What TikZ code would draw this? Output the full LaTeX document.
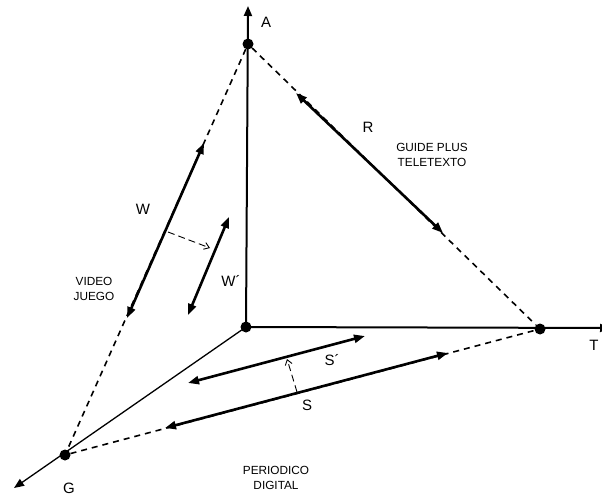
\documentclass[tikz,border=0pt]{standalone}
\usepackage{fontspec}
\setmainfont{Liberation Sans}
\usetikzlibrary{arrows.meta}
\begin{document}
\begin{tikzpicture}[x=1pt,y=-1pt,
  axisline/.style={line width=2pt,-{Triangle[length=10pt,width=8pt]}},
  gaxisline/.style={line width=1.3pt,-{Triangle[length=10pt,width=8pt]}},
  dashline/.style={line width=1.6pt,dash pattern=on 6pt off 5pt},
  seg/.style={line width=2.6pt,{Triangle[length=11pt,width=8pt]}-{Triangle[length=11pt,width=8pt]}},
  move/.style={line width=0.9pt,dash pattern=on 7pt off 4pt,-{Straight Barb[length=5pt,width=7pt]}},
  dotnode/.style={circle,fill=black,inner sep=0pt,minimum size=11pt},
  big/.style={font=\fontsize{15}{17}\selectfont,inner sep=0pt},
  small/.style={font=\fontsize{11.8}{15.5}\selectfont,inner sep=0pt,align=center}]
\useasboundingbox (0,0) rectangle (602,497);
% points
\node[dotnode] (O) at (246,327) {};
\node[dotnode] (A) at (248,44) {};
\node[dotnode] (T) at (540,329) {};
\node[dotnode] (G) at (65,455) {};
\coordinate (Atip) at (248,6);
\coordinate (Ttip) at (610,328);
\coordinate (Gtip) at (14,488);
% axes
\draw[axisline] (O.center) -- (Atip);
\draw[axisline] (O.center) -- (Ttip);
\draw[gaxisline] (O.center) -- (Gtip);
% dashed triangle
\draw[dashline] (A) -- (G);
\draw[dashline] (A) -- (T);
\draw[dashline] (G) -- (T);
% segments
\coordinate (w1) at (204,143);
\coordinate (w2) at (127,318);
\coordinate (r1) at (296,93);
\coordinate (r2) at (443,233);
\coordinate (s1) at (448,353);
\coordinate (s2) at (165,428);
\coordinate (sp1) at (365,336);
\coordinate (sp2) at (188,383);
\coordinate (wp1) at (229,217);
\coordinate (wp2) at (188,315);
\draw[seg] (w1) -- (w2);
\draw[seg] (r1) -- (r2);
\draw[seg] (s1) -- (s2);
\draw[seg] (sp1) -- (sp2);
\draw[seg] (wp1) -- (wp2);
% moves
\coordinate (m1a) at (168,232);
\coordinate (m1b) at (210,248);
\coordinate (m2a) at (297,392);
\coordinate (m2b) at (287,359);
\draw[move] (m1a) -- (m1b);
\draw[move] (m2a) -- (m2b);
% labels
\node[big] (lA) at (266,22) {A};
\node[big] (lT) at (594,345) {T};
\node[big] (lG) at (69,488) {G};
\node[big] (lW) at (143,209) {W};
\node[big] (lWp) at (231,281) {W´};
\node[big] (lR) at (368,127) {R};
\node[big] (lSp) at (332,360) {S´};
\node[big] (lS) at (307,405) {S};
\node[small] (lgp) at (432,155) {GUIDE PLUS\\TELETEXTO};
\node[small] (lvj) at (94,289) {VIDEO\\JUEGO};
\node[small] (lpd) at (276,478) {PERIODICO\\DIGITAL};
\end{tikzpicture}
\end{document}
